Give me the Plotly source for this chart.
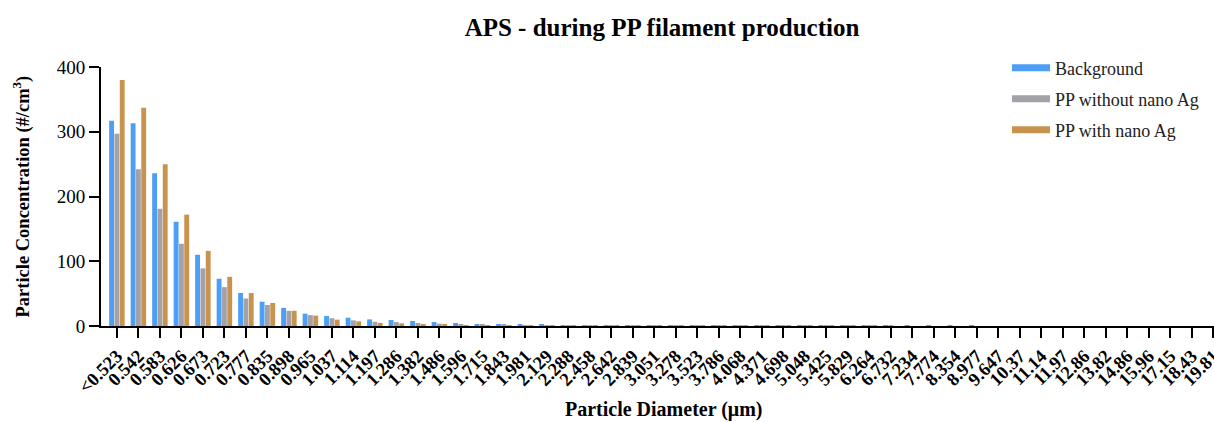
import plotly.graph_objects as go

categories = ["<0.523", "0.542", "0.583", "0.626", "0.673", "0.723", "0.777", "0.835", "0.898", "0.965",
              "1.037", "1.114", "1.197", "1.286", "1.382", "1.486", "1.596", "1.715", "1.843", "1.981",
              "2.129", "2.288", "2.458", "2.642", "2.839", "3.051", "3.278", "3.523", "3.786", "4.068",
              "4.371", "4.698", "5.048", "5.425", "5.829", "6.264", "6.732", "7.234", "7.774", "8.354",
              "8.977", "9.647", "10.37", "11.14", "11.97", "12.86", "13.82", "14.86", "15.96", "17.15",
              "18.43", "19.81"]

background = [317, 313, 236, 161, 110, 73, 51, 37.5, 28, 19,
              15.5, 12.8, 10.2, 9.2, 7.7, 6.1, 4.6, 3.0, 3.0, 2.5,
              2.0, 1.5, 1.0, 0.6, 0.4, 0.3, 0.2, 0.15, 0.1, 0.08,
              0.06, 0.05, 0.04, 0.03, 0.02, 0.02, 0.01, 0.01, 0.01, 0.01,
              0.01, 0, 0, 0, 0, 0, 0, 0, 0, 0,
              0, 0]
pp_without = [297, 242, 181, 127, 89, 60, 42.5, 32.5, 23.5, 16.8,
              12.0, 8.7, 6.6, 6.1, 4.6, 3.6, 3.1, 3.0, 2.0, 1.5,
              1.0, 0.7, 0.5, 0.3, 0.2, 0.15, 0.1, 0.08, 0.06, 0.05,
              0.04, 0.03, 0.02, 0.02, 0.01, 0.01, 0.01, 0, 0, 0,
              0, 0, 0, 0, 0, 0, 0, 0, 0, 0,
              0, 0]
pp_with = [380, 337, 250, 172, 116, 76, 51, 35.5, 23.5, 16,
           9.8, 7.2, 4.8, 4.1, 3.0, 2.6, 1.5, 1.5, 1.0, 1.0,
           0.7, 0.5, 0.3, 0.2, 0.15, 0.1, 0.08, 0.06, 0.05, 0.04,
           0.03, 0.02, 0.02, 0.01, 0.01, 0.01, 0, 0, 0, 0,
           0, 0, 0, 0, 0, 0, 0, 0, 0, 0,
           0, 0]

series_names = ["Background", "PP without nano Ag", "PP with nano Ag"]
colors = ["#4C9EF7", "#A2A2A8", "#C8934E"]

FONT = "Liberation Serif"
fig = go.Figure()
for name, vals, col in zip(series_names, [background, pp_without, pp_with], colors):
    fig.add_trace(go.Bar(x=categories, y=vals, name=name, marker=dict(color=col, line=dict(width=0)),
                         showlegend=False))
for i, (name, col) in enumerate(zip(series_names, colors)):
    fig.add_trace(go.Scatter(x=[None], y=[None], mode="lines", name=name,
                             line=dict(color=col, width=7), legendgroup=f"g{i}"))

fig.update_layout(
    width=1214, height=422,
    margin=dict(l=101, r=0, t=67, b=96, autoexpand=False),
    paper_bgcolor="white", plot_bgcolor="white",
    barmode="group", bargap=0.26, bargroupgap=0.08,
    font=dict(family=FONT, color="black"),
    title=dict(text="<b>APS - during PP filament production</b>", x=662 / 1214, xanchor="center",
               y=1 - 27 / 422, yanchor="middle", font=dict(size=25, family=FONT, color="black")),
    legend=dict(x=(1007 - 101) / 1113, xanchor="left", y=1.067, yanchor="top",
                font=dict(size=18, family=FONT, color="#222"), tracegroupgap=4.5, itemwidth=38,
                bgcolor="rgba(0,0,0,0)"),
    xaxis=dict(type="category", range=[-0.74, 51.03], showline=True, linewidth=2, linecolor="black",
               tickmode="array", tickvals=categories, ticktext=[f"<b>{c}</b>" for c in categories],
               ticks="outside", ticklen=10, tickwidth=2, tickcolor="black", tickangle=-45,
               automargin=False,
               tickfont=dict(size=18.5, family=FONT, color="black"), showgrid=False, zeroline=False),
    yaxis=dict(range=[0, 400], tickvals=[0, 100, 200, 300, 400], showline=True, linewidth=2,
               linecolor="black", ticks="outside", ticklen=10, tickwidth=2, tickcolor="black",
               automargin=False, tickprefix="<b>", ticksuffix="</b>",
               tickfont=dict(size=19, family=FONT, color="black"), showgrid=False, zeroline=False),
    annotations=[
        dict(text="<b>Particle Diameter (μm)</b>", xref="paper", yref="paper", x=(664 - 101) / 1113,
             y=0, yshift=-(409 - 326), xanchor="center", yanchor="middle", showarrow=False,
             font=dict(size=20, family=FONT, color="black")),
        dict(text="<b>Particle Concentration (#/cm<sup>3</sup>)</b>", xref="paper", yref="paper", x=0,
             xshift=-(101 - 22), y=0.5, xanchor="center", yanchor="middle", textangle=-90,
             showarrow=False, font=dict(size=18.5, family=FONT, color="black")),
    ],
)
fig.write_html("out.html")
